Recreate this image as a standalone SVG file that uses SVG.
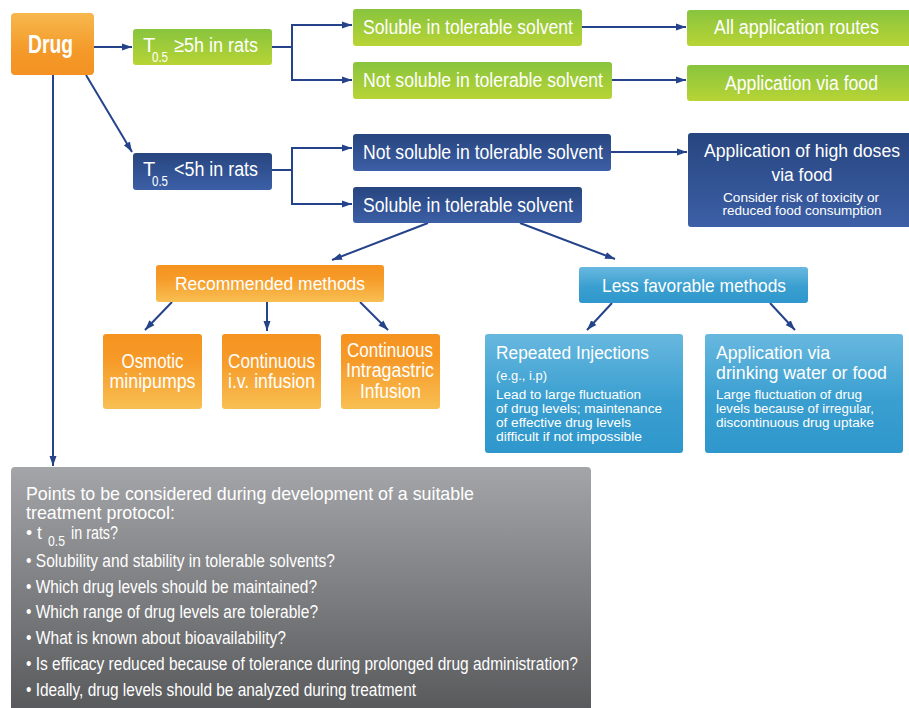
<svg xmlns="http://www.w3.org/2000/svg" width="909" height="708" viewBox="0 0 909 708">
<defs>
<linearGradient id="gGreen" x1="0" y1="0" x2="0" y2="1"><stop offset="0" stop-color="#88c43e"/><stop offset="1" stop-color="#b8d435"/></linearGradient>
<linearGradient id="gBlue" x1="0" y1="0" x2="0" y2="1"><stop offset="0" stop-color="#27457f"/><stop offset="1" stop-color="#3c5fa6"/></linearGradient>
<linearGradient id="gDrug" x1="0" y1="0" x2="0" y2="1"><stop offset="0" stop-color="#f7b84d"/><stop offset="0.6" stop-color="#f49a2a"/><stop offset="1" stop-color="#f39223"/></linearGradient>
<linearGradient id="gOrange" x1="0" y1="0" x2="0" y2="1"><stop offset="0" stop-color="#f6931f"/><stop offset="0.35" stop-color="#f69a28"/><stop offset="1" stop-color="#f8bf52"/></linearGradient>
<linearGradient id="gLight" x1="0" y1="0" x2="0" y2="1"><stop offset="0" stop-color="#68b8df"/><stop offset="0.55" stop-color="#3a9fd0"/><stop offset="1" stop-color="#2f97cc"/></linearGradient>
<linearGradient id="gGray" x1="0" y1="0" x2="0" y2="1"><stop offset="0" stop-color="#a4a5a8"/><stop offset="1" stop-color="#58595b"/></linearGradient>
<marker id="arr" markerUnits="userSpaceOnUse" markerWidth="11" markerHeight="8" refX="10" refY="4" orient="auto"><path d="M0,0.5 L10,4 L0,7.5 z" fill="#25438a"/></marker>
<style>
text{font-family:"Liberation Sans Narrow","Liberation Sans",Arial,sans-serif;fill:#ffffff;}
.c{fill:none;stroke:#25438a;stroke-width:2;}
.a{marker-end:url(#arr);}
.m{font-size:20px;}
.h{font-size:19px;}
.mid{text-anchor:middle;}
.s{font-size:14px;}
.b{font-size:20px;}
.sm{font-size:12.5px;}
.g{font-size:17.5px;}
</style>
</defs>

<g id="connectors">
<path class="c a" d="M94,47 H132"/>
<path class="c a" d="M272,47 H292 V25 H352"/>
<path class="c a" d="M292,47 V80 H352"/>
<path class="c a" d="M582,27 H686"/>
<path class="c a" d="M612,80 H686"/>
<path class="c a" d="M86,75 L132,152"/>
<path class="c a" d="M53,75 V466"/>
<path class="c a" d="M272,170 H292 V148 H352"/>
<path class="c a" d="M292,170 V204 H352"/>
<path class="c a" d="M611,152 H687"/>
<path class="c a" d="M428,223 L332,260"/>
<path class="c a" d="M520,223 L615,259"/>
<path class="c a" d="M172,302 L145,330"/>
<path class="c a" d="M267,302 V331"/>
<path class="c a" d="M360,302 L388,330"/>
<path class="c a" d="M612,303 L587,330"/>
<path class="c a" d="M770,303 L795,330"/>
</g>

<g id="drug">
<rect x="11" y="13" width="83" height="62" rx="4" fill="url(#gDrug)"/>
<text x="50.5" y="53" class="mid" font-size="25" font-weight="bold" textLength="45" lengthAdjust="spacingAndGlyphs">Drug</text>
</g>

<g id="t-ge5">
<rect x="133" y="29" width="139" height="36" rx="3" fill="url(#gGreen)"/>
<text class="m"><tspan x="143" y="52">T</tspan><tspan x="152" y="62" class="s" textLength="16" lengthAdjust="spacingAndGlyphs">0.5</tspan><tspan x="174" y="52" textLength="84" lengthAdjust="spacingAndGlyphs">≥5h in rats</tspan></text>
</g>

<g id="g-soluble">
<rect x="353" y="9" width="229" height="37" rx="3" fill="url(#gGreen)"/>
<text x="363" y="34" class="m" textLength="210" lengthAdjust="spacingAndGlyphs">Soluble in tolerable solvent</text>
</g>

<g id="g-notsoluble">
<rect x="353" y="62" width="259" height="37" rx="3" fill="url(#gGreen)"/>
<text x="363" y="87" class="m" textLength="240" lengthAdjust="spacingAndGlyphs">Not soluble in tolerable solvent</text>
</g>

<g id="all-routes">
<rect x="687" y="10" width="226" height="36" rx="3" fill="url(#gGreen)"/>
<text x="796.5" y="34" class="m mid" textLength="165" lengthAdjust="spacingAndGlyphs">All application routes</text>
</g>

<g id="via-food">
<rect x="687" y="65" width="226" height="36" rx="3" fill="url(#gGreen)"/>
<text x="801.5" y="90" class="m mid" textLength="153" lengthAdjust="spacingAndGlyphs">Application via food</text>
</g>

<g id="t-lt5">
<rect x="133" y="153" width="139" height="37" rx="3" fill="url(#gBlue)"/>
<text class="m"><tspan x="143" y="176">T</tspan><tspan x="152" y="186" class="s" textLength="16" lengthAdjust="spacingAndGlyphs">0.5</tspan><tspan x="174" y="176" textLength="84" lengthAdjust="spacingAndGlyphs">&lt;5h in rats</tspan></text>
</g>

<g id="b-notsoluble">
<rect x="353" y="134" width="258" height="37" rx="3" fill="url(#gBlue)"/>
<text x="363" y="159" class="m" textLength="240" lengthAdjust="spacingAndGlyphs">Not soluble in tolerable solvent</text>
</g>

<g id="b-soluble">
<rect x="353" y="187" width="229" height="36" rx="3" fill="url(#gBlue)"/>
<text x="363" y="212" class="m" textLength="210" lengthAdjust="spacingAndGlyphs">Soluble in tolerable solvent</text>
</g>

<g id="high-doses">
<rect x="688" y="133" width="225" height="94" rx="3" fill="url(#gBlue)"/>
<text x="802" y="157" class="mid" font-size="18" textLength="196" lengthAdjust="spacingAndGlyphs">Application of high doses</text>
<text x="802" y="181" class="mid" font-size="18" textLength="61" lengthAdjust="spacingAndGlyphs">via food</text>
<text x="801" y="202" class="mid" font-size="13.5" textLength="156" lengthAdjust="spacingAndGlyphs">Consider risk of toxicity or</text>
<text x="802" y="215" class="mid" font-size="13.5" textLength="159" lengthAdjust="spacingAndGlyphs">reduced food consumption</text>
</g>

<g id="recommended">
<rect x="156" y="265" width="228" height="37" rx="3" fill="url(#gOrange)"/>
<text x="270" y="290" class="h mid" textLength="190" lengthAdjust="spacingAndGlyphs">Recommended methods</text>
</g>

<g id="osmotic">
<rect x="103" y="334" width="99" height="75" rx="3" fill="url(#gOrange)"/>
<text x="152.5" y="368" class="b mid" textLength="62" lengthAdjust="spacingAndGlyphs">Osmotic</text>
<text x="152.5" y="388" class="b mid" textLength="86" lengthAdjust="spacingAndGlyphs">minipumps</text>
</g>

<g id="iv">
<rect x="222" y="334" width="99" height="75" rx="3" fill="url(#gOrange)"/>
<text x="271.5" y="368" class="b mid" textLength="87" lengthAdjust="spacingAndGlyphs">Continuous</text>
<text x="271.5" y="388" class="b mid" textLength="87" lengthAdjust="spacingAndGlyphs">i.v. infusion</text>
</g>

<g id="intragastric">
<rect x="341" y="334" width="99" height="75" rx="3" fill="url(#gOrange)"/>
<text x="390" y="357" class="b mid" textLength="86" lengthAdjust="spacingAndGlyphs">Continuous</text>
<text x="390" y="377" class="b mid" textLength="88" lengthAdjust="spacingAndGlyphs">Intragastric</text>
<text x="390.5" y="398" class="b mid" textLength="61" lengthAdjust="spacingAndGlyphs">Infusion</text>
</g>

<g id="less-favorable">
<rect x="579" y="267" width="229" height="36" rx="3" fill="url(#gLight)"/>
<text x="694" y="292" class="h mid" textLength="184" lengthAdjust="spacingAndGlyphs">Less favorable methods</text>
</g>

<g id="injections">
<rect x="485" y="334" width="198" height="119" rx="3" fill="url(#gLight)"/>
<text x="496" y="359" font-size="18" textLength="153" lengthAdjust="spacingAndGlyphs">Repeated Injections</text>
<text x="496" y="380" font-size="13.5" textLength="51" lengthAdjust="spacingAndGlyphs">(e.g., i.p)</text>
<text x="496" y="399" class="sm" textLength="145" lengthAdjust="spacingAndGlyphs">Lead to large fluctuation</text>
<text x="496" y="413" class="sm" textLength="166" lengthAdjust="spacingAndGlyphs">of drug levels; maintenance</text>
<text x="496" y="427" class="sm" textLength="135" lengthAdjust="spacingAndGlyphs">of effective drug levels</text>
<text x="496" y="441" class="sm" textLength="146" lengthAdjust="spacingAndGlyphs">difficult if not impossible</text>
</g>

<g id="drinking">
<rect x="705" y="334" width="198" height="119" rx="3" fill="url(#gLight)"/>
<text x="716" y="359" font-size="19" textLength="114" lengthAdjust="spacingAndGlyphs">Application via</text>
<text x="716" y="379" font-size="19" textLength="171" lengthAdjust="spacingAndGlyphs">drinking water or food</text>
<text x="716" y="399" class="sm" textLength="146" lengthAdjust="spacingAndGlyphs">Large fluctuation of drug</text>
<text x="716" y="413" class="sm" textLength="158" lengthAdjust="spacingAndGlyphs">levels because of irregular,</text>
<text x="716" y="427" class="sm" textLength="158" lengthAdjust="spacingAndGlyphs">discontinuous drug uptake</text>
</g>

<g id="points">
<rect x="11" y="467" width="580" height="245" rx="4" fill="url(#gGray)"/>
<text x="26" y="500" font-size="19" textLength="448" lengthAdjust="spacingAndGlyphs">Points to be considered during development of a suitable</text>
<text x="26" y="519" font-size="19" textLength="149" lengthAdjust="spacingAndGlyphs">treatment protocol:</text>
<text class="g"><tspan x="26" y="539">• t</tspan><tspan x="48" y="546" class="s" textLength="17" lengthAdjust="spacingAndGlyphs">0.5</tspan><tspan x="71" y="539" textLength="47" lengthAdjust="spacingAndGlyphs">in rats?</tspan></text>
<text x="26" y="567" class="g" textLength="309" lengthAdjust="spacingAndGlyphs">• Solubility and stability in tolerable solvents?</text>
<text x="26" y="593" class="g" textLength="291" lengthAdjust="spacingAndGlyphs">• Which drug levels should be maintained?</text>
<text x="26" y="618" class="g" textLength="292" lengthAdjust="spacingAndGlyphs">• Which range of drug levels are tolerable?</text>
<text x="26" y="644" class="g" textLength="260" lengthAdjust="spacingAndGlyphs">• What is known about bioavailability?</text>
<text x="26" y="670" class="g" textLength="552" lengthAdjust="spacingAndGlyphs">• Is efficacy reduced because of tolerance during prolonged drug administration?</text>
<text x="26" y="696" class="g" textLength="390" lengthAdjust="spacingAndGlyphs">• Ideally, drug levels should be analyzed during treatment</text>
</g>
</svg>
